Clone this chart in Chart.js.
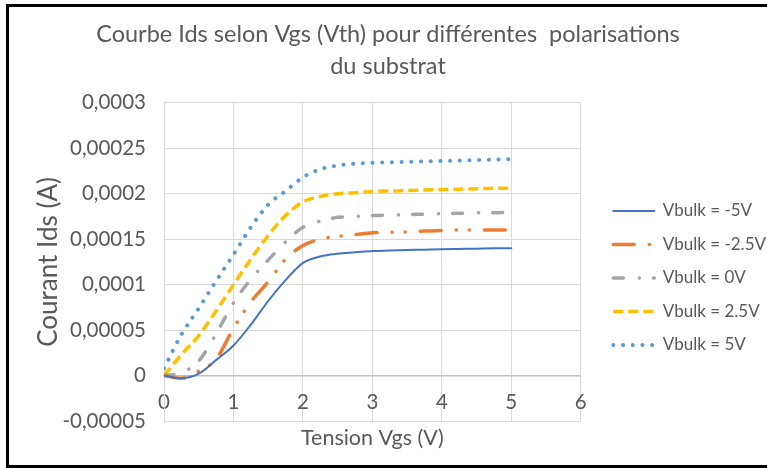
<!DOCTYPE html>
<html>
<head>
<meta charset="utf-8">
<title>Courbe Ids selon Vgs</title>
<script src="https://cdn.jsdelivr.net/npm/chart.js@4.4.0/dist/chart.umd.min.js"></script>
<style>
  html, body { margin: 0; padding: 0; background: #fff; }
  #frame {
    position: absolute; left: 6px; top: 4px; width: 800px; height: 458px;
    border-left: 3px solid #000; border-top: 3px solid #000; border-bottom: 3px solid #000;
  }
  #wrap { position: absolute; left: 0; top: 0; width: 767px; height: 468px; }
</style>
</head>
<body>
<div id="frame"></div>
<div id="wrap"><canvas id="idsChart"></canvas></div>
<script>
// Tension Vgs (V)
const vgs = [0, 0.25, 0.5, 0.75, 1, 1.25, 1.5, 1.75, 2, 2.25, 2.5, 2.75, 3, 3.25, 3.5, 3.75, 4, 4.25, 4.5, 4.75, 5];

// Courant Ids (A) pour chaque polarisation du substrat
const idsM5 = [0, -0.000003, 0.000002, 0.000017, 0.000033, 0.000056, 0.000082, 0.000105, 0.000124, 0.000131, 0.000134, 0.0001355, 0.000137, 0.0001375, 0.000138, 0.0001385, 0.000139, 0.0001393, 0.0001396, 0.00014, 0.00014];
const idsM25 = [0, -0.000003, 0.000005, 0.000018, 0.000052, 0.000081, 0.000103, 0.000128, 0.000143, 0.00015, 0.000153, 0.000155, 0.000157, 0.0001575, 0.000158, 0.000159, 0.0001595, 0.00016, 0.00016, 0.00016, 0.00016];
const ids0 = [0, 0.000003, 0.000016, 0.000046, 0.00008, 0.000106, 0.000127, 0.000147, 0.000163, 0.00017, 0.000174, 0.000175, 0.000176, 0.0001765, 0.000177, 0.0001775, 0.000178, 0.0001785, 0.000179, 0.000179, 0.00018];
const idsP25 = [0, 0.000023, 0.000044, 0.000071, 0.0001, 0.000128, 0.000154, 0.000176, 0.000191, 0.000197, 0.0002, 0.000201, 0.0002025, 0.000203, 0.0002035, 0.000204, 0.0002045, 0.000205, 0.0002055, 0.000206, 0.000206];
const idsP5 = [0.000008, 0.000045, 0.000074, 0.000104, 0.000133, 0.000163, 0.000188, 0.000203, 0.000218, 0.000227, 0.000231, 0.000233, 0.000234, 0.0002345, 0.000235, 0.0002355, 0.000236, 0.0002365, 0.000237, 0.0002375, 0.000238];

const seriesLabels = ['Vbulk = -5V', 'Vbulk = -2.5V', 'Vbulk = 0V', 'Vbulk = 2.5V', 'Vbulk = 5V'];
const titleLines = ['Courbe Ids selon Vgs (Vth) pour différentes  polarisations', 'du substrat'];

const FONT = 'Lato, "Open Sans", sans-serif';
const TXT = '#595959';

function toPoints(arr) {
    return vgs.map((x, i) => ({ x: x, y: arr[i] }));
}

function frLabel(v) {
    const s = String(parseFloat(v.toFixed(6)));
    return s.replace('.', ',');
}

// décale la légende (elle est plus basse et plus à droite dans Excel)
const legendShift = {
    id: 'legendShift',
    afterLayout(chart) {
        const lg = chart.legend;
        if (!lg) return;
        const dx = 16, dy = 44;
        lg.left += dx; lg.right += dx;
        lg.top += dy; lg.bottom += dy;
    }
};

const ctx = document.getElementById('idsChart').getContext('2d');

const chart = new Chart(ctx, {
    type: 'line',
    data: {
        datasets: [
            {
                label: seriesLabels[0],
                data: toPoints(idsM5),
                borderColor: '#4472C4',
                borderWidth: 2,
                borderCapStyle: 'round'
            },
            {
                label: seriesLabels[1],
                data: toPoints(idsM25),
                borderColor: '#ED7D31',
                borderWidth: 3.5,
                borderCapStyle: 'round',
                borderDash: [21, 15, 0.1, 13, 0.1, 15]
            },
            {
                label: seriesLabels[2],
                data: toPoints(ids0),
                borderColor: '#A5A5A5',
                borderWidth: 3.5,
                borderCapStyle: 'round',
                borderDash: [10, 16, 0.1, 14]
            },
            {
                label: seriesLabels[3],
                data: toPoints(idsP25),
                borderColor: '#FFC000',
                borderWidth: 3.5,
                borderCapStyle: 'butt',
                borderDash: [10, 5]
            },
            {
                label: seriesLabels[4],
                data: toPoints(idsP5),
                borderColor: '#5B9BD5',
                borderWidth: 4,
                borderCapStyle: 'round',
                borderDash: [0.1, 9.6]
            }
        ]
    },
    options: {
        responsive: true,
        maintainAspectRatio: false,
        animation: false,
        layout: {
            padding: { left: 16, right: 7, top: 0, bottom: 0 }
        },
        elements: {
            point: { radius: 0, hoverRadius: 0 },
            line: { tension: 0.4, cubicInterpolationMode: 'monotone', fill: false }
        },
        scales: {
            x: {
                type: 'linear',
                position: { y: 0 },
                min: 0,
                max: 6,
                ticks: {
                    stepSize: 1,
                    color: TXT,
                    padding: 15,
                    font: { family: FONT, size: 20.5 }
                },
                grid: { color: '#d9d9d9', drawTicks: false },
                border: { color: '#bfbfbf', width: 1.5 }
            },
            x2: {
                type: 'linear',
                position: 'bottom',
                min: 0,
                max: 6,
                ticks: { display: false },
                grid: { display: false },
                border: { display: false },
                title: {
                    display: true,
                    text: 'Tension Vgs (V)',
                    color: TXT,
                    padding: { top: 0, bottom: 17 },
                    font: { family: FONT, size: 21.5 }
                },
                afterFit: function(scale) { scale.height = 47; }
            },
            y: {
                min: -0.00005,
                max: 0.0003,
                ticks: {
                    stepSize: 0.00005,
                    color: TXT,
                    padding: 18,
                    font: { family: FONT, size: 20.5 },
                    callback: function(value) { return frLabel(value); }
                },
                grid: { color: '#d9d9d9', drawTicks: false },
                border: { color: '#d9d9d9' },
                title: {
                    display: true,
                    text: 'Courant Ids (A)',
                    color: TXT,
                    padding: { top: 17, bottom: 0 },
                    font: { family: FONT, size: 26 }
                },
                afterFit: function(scale) { scale.width = 148; }
            }
        },
        plugins: {
            title: {
                display: true,
                text: titleLines,
                color: TXT,
                padding: { top: 17.5, bottom: 19.5 },
                font: { family: FONT, size: 23.5, weight: 'normal', lineHeight: 1.4 }
            },
            legend: {
                position: 'right',
                labels: {
                    usePointStyle: true,
                    pointStyle: 'line',
                    pointStyleWidth: 41,
                    color: TXT,
                    padding: 16.5,
                    font: { family: FONT, size: 17 },
                    generateLabels: function(chart) {
                        const items = Chart.defaults.plugins.legend.labels.generateLabels(chart);
                        items.forEach((item, i) => {
                            const ds = chart.data.datasets[i];
                            item.strokeStyle = ds.borderColor;
                            item.lineWidth = ds.borderWidth;
                            item.lineDash = ds.borderDash || [];
                            item.lineCap = ds.borderCapStyle;
                        });
                        return items;
                    }
                }
            },
            tooltip: { enabled: false }
        }
    },
    plugins: [legendShift]
});
</script>
</body>
</html>
